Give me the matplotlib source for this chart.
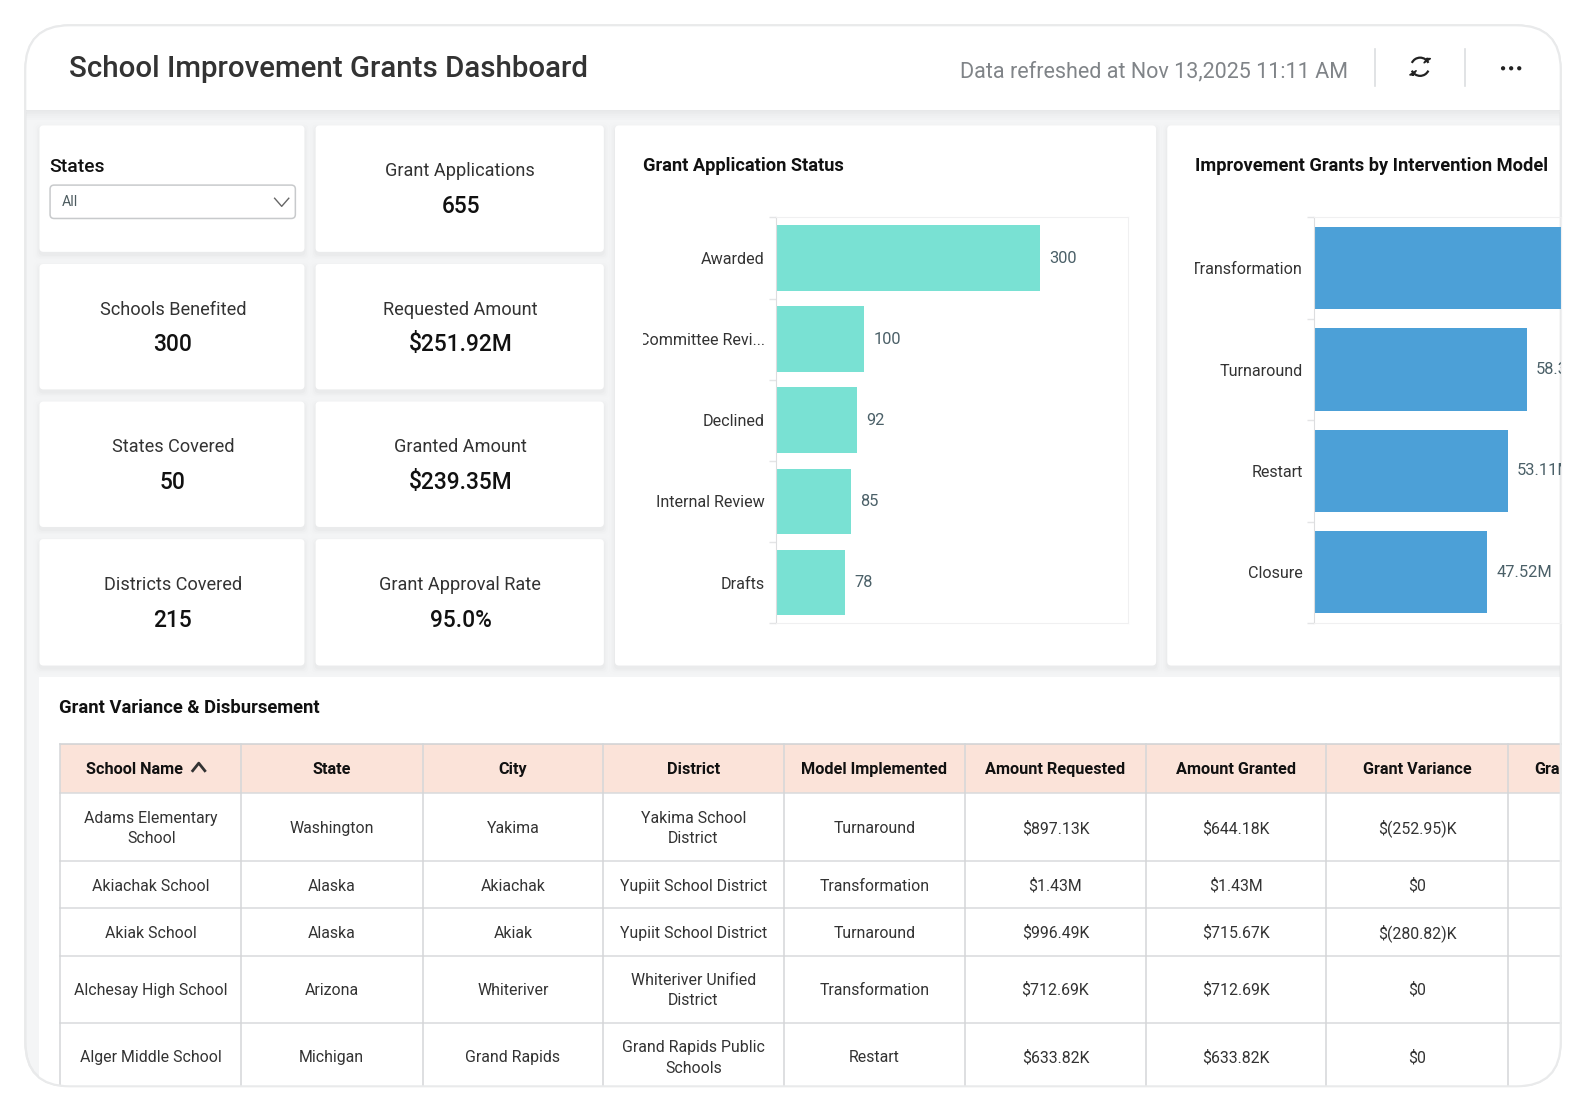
#!/usr/bin/env python3

import matplotlib
matplotlib.use("Agg")
import matplotlib.pyplot as plt
from matplotlib.patches import FancyBboxPatch, Rectangle, Arc, Circle
from matplotlib.transforms import Bbox, TransformedBbox

plt.rcParams["font.family"] = ["Roboto", "DejaVu Sans"]

# page coordinates are those of the picture at 1568 wide
W, H = 1568, 1099.4
S = 1586 / 1568

TITLE = "School Improvement Grants Dashboard"
REFRESHED = "Data refreshed at Nov 13,2025 11:11 AM"

KPI_LEFT = ["Schools Benefited", "States Covered", "Districts Covered"]
KPI_LEFT_VALUES = ["300", "50", "215"]
KPI_RIGHT = ["Grant Applications", "Requested Amount", "Granted Amount", "Grant Approval Rate"]
KPI_RIGHT_VALUES = ["655", "$251.92M", "$239.35M", "95.0%"]

STATUS = ["Awarded", "Committee Revi...", "Declined", "Internal Review", "Drafts"]
STATUS_COUNTS = [300, 100, 92, 85, 78]

MODELS = ["Transformation", "Turnaround", "Restart", "Closure"]
MODEL_GRANTS = [80.42, 58.30, 53.11, 47.52]

COLUMNS = ["School Name", "State", "City", "District", "Model Implemented",
           "Amount Requested", "Amount Granted", "Grant Variance", "Gra"]
SCHOOLS = ["Adams Elementary\nSchool", "Akiachak School", "Akiak School",
           "Alchesay High School", "Alger Middle School"]
STATES = ["Washington", "Alaska", "Alaska", "Arizona", "Michigan"]
CITIES = ["Yakima", "Akiachak", "Akiak", "Whiteriver", "Grand Rapids"]
DISTRICTS = ["Yakima School\nDistrict", "Yupiit School District", "Yupiit School District",
             "Whiteriver Unified\nDistrict", "Grand Rapids Public\nSchools"]
IMPLEMENTED = ["Turnaround", "Transformation", "Turnaround", "Transformation", "Restart"]
REQUESTED = ["$897.13K", "$1.43M", "$996.49K", "$712.69K", "$633.82K"]
GRANTED = ["$644.18K", "$1.43M", "$715.67K", "$712.69K", "$633.82K"]
VARIANCE = ["$(252.95)K", "$0", "$(280.82)K", "$0", "$0"]

COL_X = [59, 238, 418, 596, 775, 954, 1133, 1311, 1491]
ROW_Y = [784, 851, 898, 945, 1011, 1078]

BODY = "#f4f5f6"
LINE = "#d8dadc"
INK = "#333333"
DARK = "#111111"


def px(size):
    # font size in pt from a height in page px
    return size * S * 0.72


fig = plt.figure(figsize=(15.86, 11.12), dpi=100, facecolor="white")
page = fig.add_axes([0, 0, 1, 1])
page.set_xlim(0, W)
page.set_ylim(H, 0)
page.axis("off")


def RoundBox(x0, y0, x1, y1, r, **kw):
    box = FancyBboxPatch((x0 + r, y0 + r), x1 - x0 - 2 * r, y1 - y0 - 2 * r,
                         boxstyle=f"round,pad={r},rounding_size={r}", **kw)
    page.add_patch(box)
    return box


def Tile(x0, y0, x1, y1):
    for grow, alpha in [(6, 0.004), (4, 0.007), (2.5, 0.01), (1, 0.014)]:
        RoundBox(x0 - grow, y0 - grow + 3, x1 + grow, y1 + grow + 3, 5,
                 fc="black", ec="none", alpha=alpha, zorder=2)
    RoundBox(x0, y0, x1, y1, 4, fc="white", ec="none", zorder=3)


# outer card
outer = RoundBox(25, 25, 1543, 1074, 44, fc=BODY, ec="#e9eaeb", lw=1.5, zorder=1)

# white header with a soft shadow under it
header = Rectangle((25, 25), 1518, 84, fc="white", ec="none", zorder=1.5)
page.add_patch(header)
header.set_clip_path(outer)
for i, alpha in enumerate([0.05, 0.035, 0.025, 0.015, 0.008]):
    page.add_patch(Rectangle((26, 109 + i * 2), 1517, 2, fc="black", ec="none",
                             alpha=alpha, zorder=1.5))
page.plot([25, 1543], [109.5, 109.5], color="#e9eaeb", lw=1, zorder=1.6)

page.text(68, 68.5, TITLE, fontsize=px(29.2), color="#333333", weight=500,
          ha="left", va="center", zorder=5)
page.text(1333, 71.5, REFRESHED, fontsize=px(21.3), color="#808488",
          ha="right", va="center", zorder=5)
for x in [1359, 1448]:
    page.plot([x, x], [48, 85], color="#dcdee0", lw=1.2, zorder=5)

# refresh icon
page.add_patch(Arc((1404, 66), 18, 18, theta1=205, theta2=335, color="#222222", lw=1.6, zorder=5))
page.add_patch(Arc((1404, 66), 18, 18, theta1=25, theta2=155, color="#222222", lw=1.6, zorder=5))
page.plot([1411, 1414, 1408, 1411], [58, 58, 62, 58], color="#222222", lw=1.2, zorder=5)
page.plot([1397, 1394, 1400, 1397], [74, 74, 70, 74], color="#222222", lw=1.2, zorder=5)
for x in [1486, 1494, 1502]:
    page.add_patch(Circle((x, 67.5), 2.1, fc="#222222", ec="none", zorder=5))

# tiles
TILE_Y = [(124, 249), (261, 385), (397, 521), (533, 658)]
for y0, y1 in TILE_Y:
    Tile(39, y0, 301, y1)
    Tile(312, y0, 597, y1)
Tile(608, 124, 1143, 658)
Tile(1154, 124, 1560, 658)
page.add_patch(Rectangle((1544, 100), 30, 600, fc="white", ec="none", zorder=4))
page.plot([1543, 1543], [100, 700], color="#e9eaeb", lw=1.5, zorder=4.1)

for (y0, y1), name, value in zip(TILE_Y[1:], KPI_LEFT, KPI_LEFT_VALUES):
    page.text(171, y0 + 45, name, fontsize=px(17.9), color=INK, ha="center", va="center", zorder=5)
    page.text(171, y0 + 80, value, fontsize=px(22.5), color=DARK, weight=500, ha="center", va="center", zorder=5)
for (y0, y1), name, value in zip(TILE_Y, KPI_RIGHT, KPI_RIGHT_VALUES):
    page.text(455, y0 + 45, name, fontsize=px(17.9), color=INK, ha="center", va="center", zorder=5)
    page.text(455.5, y0 + 80, value, fontsize=px(22.5), color=DARK, weight=500, ha="center", va="center", zorder=5)

# state filter
page.text(49, 165, "States", fontsize=px(19), color=DARK, weight=500, ha="left", va="center", zorder=5)
RoundBox(49.5, 183, 292, 216, 4, fc="white", ec="#c8cacc", lw=1.1, zorder=5)
page.text(61, 200, "All", fontsize=px(14), color="#4d5c60", ha="left", va="center", zorder=6)
page.plot([271.5, 278.5, 285.5], [196, 204, 196], color="#666666", lw=1, zorder=6)


def BarChart(title, title_x, x0, x1, names, values, color, xmax, fmt, bar_height, clip_x):
    page.text(title_x, 164, title, fontsize=px(18.1), color=DARK, weight="bold",
              ha="left", va="center", zorder=5)
    ax = fig.add_axes([x0 / W, 1 - 616 / H, (x1 - x0) / W, (616 - 215) / H], zorder=6)
    ax.patch.set_alpha(0)
    pos = list(range(len(names)))
    bars = ax.barh(pos, values, height=bar_height, color=color, edgecolor="none")
    ax.bar_label(bars, labels=[fmt(v) for v in values], padding=6.5,
                 fontsize=px(16.2), color="#4b6068", clip_on=True)
    ax.set_xlim(0, xmax)
    ax.set_ylim(len(names) - 0.5, -0.5)
    ax.set_xticks([])
    ax.set_yticks(pos)
    ax.set_yticklabels(names, fontsize=px(16), color=INK)
    ax.set_yticks([p - 0.5 for p in pos] + [len(names) - 0.5], minor=True)
    ax.tick_params(axis="y", which="major", length=0, pad=8.5)
    ax.tick_params(axis="y", which="minor", length=5, width=1, color="#e4e5e6")
    for side in ax.spines:
        ax.spines[side].set_color("#f0f0f1")
    ax.spines["left"].set_color("#dcdddf")
    clip = TransformedBbox(Bbox([[clip_x, 200], [x1, 630]]), page.transData)
    for label in ax.get_yticklabels():
        label.set_clip_box(clip)
        label.set_clip_on(True)
        label.set_y(label.get_position()[1])
    return ax


BarChart("Grant Application Status", 636, 767.5, 1115, STATUS, STATUS_COUNTS, "#79e1d3",
         400, lambda v: f"{v}", 0.81, 636)
BarChart("Improvement Grants by Intervention Model", 1181, 1299.5, 1543, MODELS, MODEL_GRANTS, "#4ca0d7",
         243.5 / 3.6, lambda v: f"{v:.2f}M", 0.81, 1181)

# table card
card = Rectangle((39, 669), 1504, 410, fc="white", ec="none", zorder=3)
page.add_patch(card)
card.set_clip_path(outer)
page.text(58, 700, "Grant Variance & Disbursement", fontsize=px(18.2), color=DARK, weight="bold",
          ha="left", va="center", zorder=5)

page.add_patch(Rectangle((59, 736), 1484, 48, fc="#fbe3d9", ec="none", zorder=4))
page.plot([59, 1543], [736, 736], color="#cfd1d3", lw=1.1, zorder=5)

for y in ROW_Y[:-1]:
    page.plot([59, 1543], [y, y], color=LINE, lw=1.1, zorder=5)
for x in COL_X:
    line, = page.plot([x, x], [736, 1078], color="#d4d6d8", lw=1.1, zorder=5)
    line.set_clip_path(outer)

centers = [(a + b) / 2 for a, b in zip(COL_X[:-1], COL_X[1:])]
for i, name in enumerate(COLUMNS[:-1]):
    x = centers[i] - (16 if i == 0 else 0)
    page.text(x, 761, name, fontsize=px(16.1), color=DARK, weight="bold", ha="center", va="center", zorder=6)
page.text(1517, 761, COLUMNS[-1], fontsize=px(16.1), color=DARK, weight="bold", ha="left", va="center", zorder=6)
page.plot([190.5, 196.5, 202.5], [762, 754.5, 762], color="#333333", lw=2, zorder=6)

table_cols = [SCHOOLS, STATES, CITIES, DISTRICTS, IMPLEMENTED, REQUESTED, GRANTED, VARIANCE]
row_centers = [819, 876, 922.5, 979, 1046]
for i, (cx, col) in enumerate(zip(centers, table_cols)):
    for yc, cell in zip(row_centers, col):
        page.text(cx + (1 if i == 0 else 0), yc, cell, fontsize=px(15.7), color=INK, ha="center", va="center",
                  linespacing=1.42, zorder=6)

# white outside of the rounded card, on top of the table
outer_ring = RoundBox(25, 25, 1543, 1074, 44, fc="none", ec="#e9eaeb", lw=1.5, zorder=7)
page.add_patch(Rectangle((0, 1075), W, 30, fc="white", ec="none", zorder=6.5))

fig.savefig("out.png", dpi=100)
